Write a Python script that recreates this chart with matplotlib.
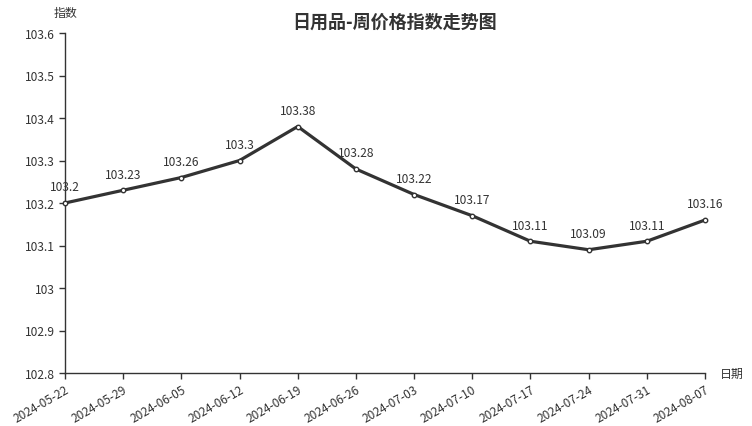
import matplotlib
matplotlib.use('Agg')
import matplotlib.pyplot as plt

plt.rcParams['font.family'] = ['Noto Sans CJK SC', 'DejaVu Sans']

dates = ['2024-05-22', '2024-05-29', '2024-06-05', '2024-06-12', '2024-06-19',
         '2024-06-26', '2024-07-03', '2024-07-10', '2024-07-17', '2024-07-24',
         '2024-07-31', '2024-08-07']
values = [103.2, 103.23, 103.26, 103.3, 103.38, 103.28, 103.22, 103.17,
          103.11, 103.09, 103.11, 103.16]
yticks = [102.8, 102.9, 103, 103.1, 103.2, 103.3, 103.4, 103.5, 103.6]

W, H = 752, 427
fig = plt.figure(figsize=(W / 100, H / 100), dpi=100)
ax = fig.add_axes([65 / W, 1 - 374 / H, (705 - 65) / W, (374 - 34) / H])

x = list(range(len(dates)))
ax.plot(x, values, color='#333333', linewidth=2.3, marker='o', markersize=3.2,
        markerfacecolor='white', markeredgecolor='#333333', markeredgewidth=1,
        zorder=3, clip_on=False)

# value labels above each point
for xi, v in zip(x, values):
    ax.annotate(f"{v:g}", (xi, v), xytext=(0, 7), textcoords='offset points',
                ha='center', va='bottom', fontsize=8.6, color='#333333')

ax.set_xlim(0, len(dates) - 1)
ax.set_ylim(102.8, 103.6)
ax.set_yticks(yticks)
ax.set_yticklabels([f"{t:g}" for t in yticks])
ax.set_xticks(x)
ax.set_xticklabels(dates, rotation=30, ha='right', rotation_mode='anchor')

for s in ['top', 'right']:
    ax.spines[s].set_visible(False)
for s in ['left', 'bottom']:
    ax.spines[s].set_color('#333333')
    ax.spines[s].set_linewidth(1)

ax.tick_params(axis='both', colors='#333333', labelsize=8.6, length=4, width=1)
ax.tick_params(axis='x', pad=3)

fig.text(395 / W, 1 - 22 / H, '日用品-周价格指数走势图', ha='center', va='center',
         fontsize=13, fontweight='bold', color='#333333')
fig.text(65 / W, 1 - 13 / H, '指数', ha='center', va='center', fontsize=8.6, color='#333333')
fig.text(720 / W, 1 - 374 / H, '日期', ha='left', va='center', fontsize=8.6, color='#333333')

fig.savefig('out.png', dpi=100)
